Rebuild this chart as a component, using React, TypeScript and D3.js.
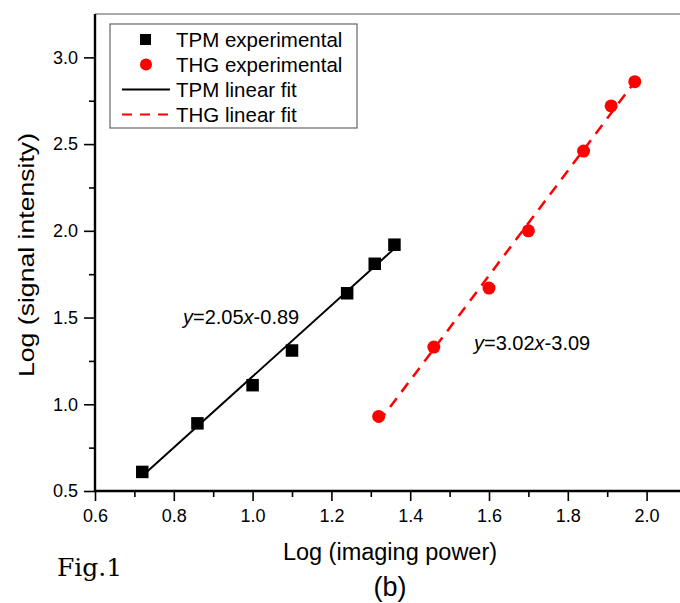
import React, { useEffect, useRef } from "react"
import * as d3 from "d3"

const tpmX = [0.72, 0.86, 1.0, 1.1, 1.24, 1.31, 1.36]
const tpmY = [0.61, 0.89, 1.11, 1.31, 1.64, 1.81, 1.92]
const thgX = [1.32, 1.46, 1.6, 1.7, 1.84, 1.91, 1.97]
const thgY = [0.93, 1.33, 1.67, 2.0, 2.46, 2.72, 2.86]
const tpmFit = { slope: 2.05, icpt: -0.89 }
const thgFit = { slope: 3.02, icpt: -3.09 }
const xTicks = [0.6, 0.8, 1.0, 1.2, 1.4, 1.6, 1.8, 2.0]
const yTicks = [0.5, 1.0, 1.5, 2.0, 2.5, 3.0]
const legendLabels = ["TPM experimental", "THG experimental", "TPM linear fit", "THG linear fit"]

const FONT = "'Liberation Sans', Arial, sans-serif"

export default function App() {
  const svgRef = useRef<SVGSVGElement>(null)

  useEffect(() => {
    const svg = d3.select(svgRef.current)
    svg.selectAll("*").remove()

    const L = 95, R = 686, T = 14, B = 491
    const x = d3.scaleLinear().domain([0.6, 2.1]).range([L, R])
    const y = d3.scaleLinear().domain([0.5, 3.25]).range([B, T])

    // top frame line (grey)
    svg.append("line")
      .attr("x1", L).attr("x2", 680).attr("y1", T).attr("y2", T)
      .attr("stroke", "#aaa").attr("stroke-width", 2)

    // x axis
    const xAxis = svg.append("g").attr("transform", `translate(0,${B})`)
    xAxis.call(d3.axisBottom(x).tickValues(xTicks).tickFormat(d3.format(".1f")).tickSize(10).tickSizeOuter(0))
    xAxis.call(g => g.append("g").call(d3.axisBottom(x).tickValues(d3.range(0.7, 2.1, 0.2)).tickSize(6).tickFormat(() => ""))
      .select(".domain").remove())
    xAxis.selectAll("path.domain").attr("stroke-width", 2.4).attr("d", `M${L},0H680`)
    xAxis.selectAll("line").attr("stroke-width", 1.6)
    xAxis.selectAll("text").attr("font-size", 18).attr("font-family", FONT).attr("fill", "#000")
      .attr("y", 31).attr("dy", null)

    // y axis
    const yAxis = svg.append("g").attr("transform", `translate(${L},0)`)
    yAxis.call(d3.axisLeft(y).tickValues(yTicks).tickFormat(d3.format(".1f")).tickSize(11).tickSizeOuter(0).tickPadding(6))
    yAxis.call(g => g.append("g").call(d3.axisLeft(y).tickValues(d3.range(0.75, 3.25, 0.5)).tickSize(6).tickFormat(() => ""))
      .select(".domain").remove())
    yAxis.selectAll("path.domain").attr("stroke-width", 2.4).attr("d", `M0,${B}V${T}`)
    yAxis.selectAll("line").attr("stroke-width", 1.6)
    yAxis.selectAll("text").attr("font-size", 18).attr("font-family", FONT).attr("fill", "#000")

    // fits
    const fitLine = d3.line<number>().x(d => x(d))
    svg.append("path")
      .attr("d", fitLine.y(d => y(tpmFit.slope * d + tpmFit.icpt))([tpmX[0], tpmX[tpmX.length - 1]]))
      .attr("stroke", "#000").attr("stroke-width", 2).attr("fill", "none")
    svg.append("path")
      .attr("d", fitLine.y(d => y(thgFit.slope * d + thgFit.icpt))([thgX[0], thgX[thgX.length - 1]]))
      .attr("stroke", "#f00").attr("stroke-width", 2.5).attr("fill", "none")
      .attr("stroke-dasharray", "11,8")

    // points
    const sq = 12.5
    svg.selectAll(".tpm").data(tpmX).enter().append("rect")
      .attr("x", d => x(d) - sq / 2)
      .attr("y", (d, i) => y(tpmY[i]) - sq / 2)
      .attr("width", sq).attr("height", sq).attr("fill", "#000")
    svg.selectAll(".thg").data(thgX).enter().append("circle")
      .attr("cx", d => x(d)).attr("cy", (d, i) => y(thgY[i]))
      .attr("r", 6.5).attr("fill", "#f00")

    // equations
    const eq = (tx: number, ty: number, s: { slope: number, icpt: number }) => {
      const t = svg.append("text").attr("x", tx).attr("y", ty)
        .attr("font-size", 20).attr("font-family", FONT)
      t.append("tspan").attr("font-style", "italic").text("y")
      t.append("tspan").text(`=${s.slope.toFixed(2)}`)
      t.append("tspan").attr("font-style", "italic").text("x")
      t.append("tspan").text(`-${Math.abs(s.icpt).toFixed(2)}`)
    }
    eq(183, 324, tpmFit)
    eq(474, 350, thgFit)

    // legend
    const lg = svg.append("g")
    lg.append("rect").attr("x", 110).attr("y", 24).attr("width", 247).attr("height", 104)
      .attr("fill", "#fff").attr("stroke", "#666").attr("stroke-width", 1.2)
    const rowY = (i: number) => 39.5 + i * 25
    lg.append("rect").attr("x", 140).attr("y", rowY(0) - 5.5).attr("width", 11).attr("height", 11).attr("fill", "#000")
    lg.append("circle").attr("cx", 146).attr("cy", rowY(1)).attr("r", 6).attr("fill", "#f00")
    lg.append("line").attr("x1", 122).attr("x2", 170).attr("y1", rowY(2)).attr("y2", rowY(2))
      .attr("stroke", "#000").attr("stroke-width", 2)
    lg.append("line").attr("x1", 122).attr("x2", 171).attr("y1", rowY(3)).attr("y2", rowY(3))
      .attr("stroke", "#f00").attr("stroke-width", 2).attr("stroke-dasharray", "10,8")
    lg.selectAll(".lt").data(legendLabels).enter().append("text")
      .attr("x", 176).attr("y", (d, i) => rowY(i)).attr("dy", "0.35em")
      .attr("font-size", 20.5).attr("font-family", FONT).text(d => d)

    // axis titles
    svg.append("text").attr("x", 390).attr("y", 560).attr("text-anchor", "middle")
      .attr("font-size", 23.5).attr("font-family", FONT).text("Log (imaging power)")
    svg.append("text").attr("transform", "translate(34,255) rotate(-90)").attr("text-anchor", "middle")
      .attr("font-size", 22).attr("font-family", FONT)
      .attr("textLength", 244).attr("lengthAdjust", "spacingAndGlyphs")
      .text("Log (signal intensity)")

    svg.append("text").attr("x", 57).attr("y", 576)
      .attr("font-size", 25).attr("font-family", "'DejaVu Serif', 'Liberation Serif', serif").text("Fig.1")
    svg.append("text").attr("x", 390).attr("y", 596).attr("text-anchor", "middle")
      .attr("font-size", 27).attr("font-family", FONT).text("(b)")
  }, [])

  return (
    <svg ref={svgRef} width={680} height={603}
      style={{ position: "absolute", left: 0, top: 0, background: "#fff" }}></svg>
  )
}
